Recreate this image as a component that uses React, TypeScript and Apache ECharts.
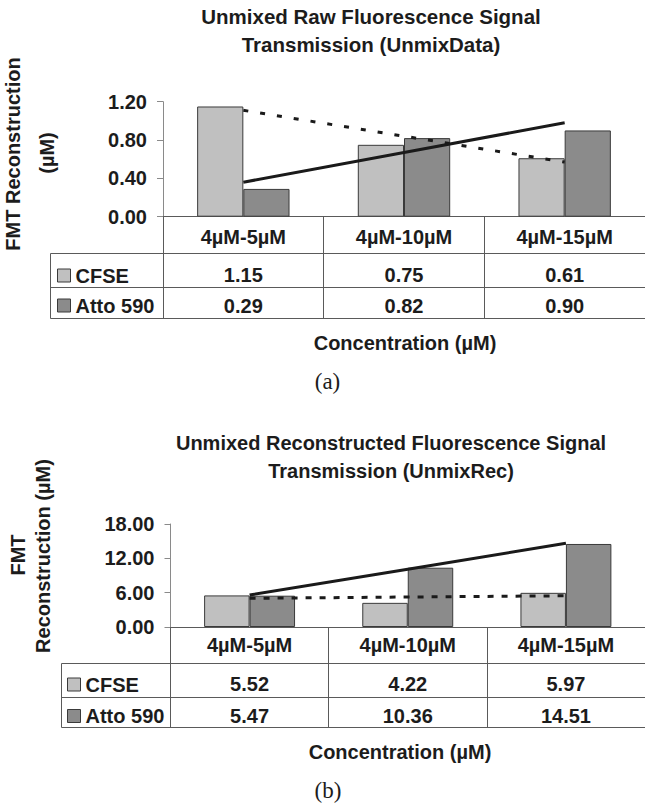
import React, { useEffect, useRef } from 'react';
import * as echarts from 'echarts';

// ---------- data ----------
const categories = ['4µM-5µM', '4µM-10µM', '4µM-15µM'];
const seriesNames = ['CFSE', 'Atto 590'];

// (a) UnmixData
const rawCFSE = [1.15, 0.75, 0.61];
const rawAtto = [0.29, 0.82, 0.9];
const rawTrendCFSE = [1.11, 0.84, 0.57];
const rawTrendAtto = [0.36, 0.67, 0.98];
const rawAxis = { min: 0, max: 1.2, interval: 0.4 };

// (b) UnmixRec
const recCFSE = [5.52, 4.22, 5.97];
const recAtto = [5.47, 10.36, 14.51];
const recTrendCFSE = [5.01, 5.24, 5.46];
const recTrendAtto = [5.59, 10.11, 14.63];
const recAxis = { min: 0, max: 18, interval: 6 };

const titleA = 'Unmixed Raw Fluorescence Signal\nTransmission (UnmixData)';
const titleB = 'Unmixed Reconstructed Fluorescence Signal\nTransmission (UnmixRec)';
const xName = 'Concentration (µM)';

// ---------- styles ----------
const FONT = '"Liberation Sans", Arial, Helvetica, sans-serif';
const SERIF = '"Liberation Serif", "Times New Roman", serif';
const TEXT = '#1c1c1c';
const GRID_LINE = '#5a5a5a';
const AXIS_GRAY = '#8a8a8a';
const CFSE_COLOR = '#c0c0c0';
const ATTO_COLOR = '#8b8b8b';
const BORDER = '#3a3a3a';

const boldText = { fontFamily: FONT, fontSize: 20, fontWeight: 'bold' as const, color: TEXT };

type Panel = {
  grid: { left: number; top: number; width: number; height: number };
  cfse: number[];
  atto: number[];
  trendCfse: number[];
  trendAtto: number[];
  axis: { min: number; max: number; interval: number };
  tableH: number;
  catMargin: number;
  cfseMargin: number;
  attoMargin: number;
  dash: number[];
};

const panels: Panel[] = [
  {
    grid: { left: 163, top: 101.7, width: 485.5, height: 115 },
    cfse: rawCFSE,
    atto: rawAtto,
    trendCfse: rawTrendCFSE,
    trendAtto: rawTrendAtto,
    axis: rawAxis,
    tableH: 101.3,
    catMargin: 20,
    cfseMargin: 58,
    attoMargin: 89,
    dash: [5, 12],
  },
  {
    grid: { left: 170.5, top: 524, width: 477.5, height: 103 },
    cfse: recCFSE,
    atto: recAtto,
    trendCfse: recTrendCFSE,
    trendAtto: recTrendAtto,
    axis: recAxis,
    tableH: 100,
    catMargin: 18,
    cfseMargin: 57,
    attoMargin: 89,
    dash: [6, 8],
  },
];

function buildOption() {
  const grid: any[] = [];
  const xAxis: any[] = [];
  const yAxis: any[] = [];
  const series: any[] = [];

  panels.forEach((p, g) => {
    grid.push({ ...p.grid, containLabel: false });
    const base = xAxis.length;
    // category axis (also draws the table's vertical dividers via long ticks)
    xAxis.push({
      gridIndex: g,
      type: 'category',
      position: 'bottom',
      data: categories,
      axisLine: { show: true, lineStyle: { color: GRID_LINE, width: 1 } },
      axisTick: { show: true, inside: false, length: p.tableH, lineStyle: { color: GRID_LINE, width: 1 } },
      axisLabel: { ...boldText, interval: 0, margin: p.catMargin, verticalAlign: 'middle' },
      splitLine: { show: false },
    });
    // data-table rows
    [p.cfse, p.atto].forEach((vals, r) => {
      xAxis.push({
        gridIndex: g,
        type: 'category',
        position: 'bottom',
        data: categories,
        axisLine: { show: false },
        axisTick: { show: false },
        splitLine: { show: false },
        axisLabel: {
          ...boldText,
          interval: 0,
          margin: r === 0 ? p.cfseMargin : p.attoMargin,
          verticalAlign: 'middle',
          formatter: (_v: string, i: number) => vals[i].toFixed(2),
        },
      });
    });
    yAxis.push({
      gridIndex: g,
      type: 'value',
      min: p.axis.min,
      max: p.axis.max,
      interval: p.axis.interval,
      axisLine: { show: true, lineStyle: { color: AXIS_GRAY, width: 1 } },
      axisTick: { show: true, length: 6, lineStyle: { color: AXIS_GRAY, width: 1 } },
      axisLabel: { ...boldText, margin: 16, formatter: (v: number) => v.toFixed(2) },
      splitLine: { show: false },
    });

    series.push(
      {
        name: seriesNames[0],
        type: 'bar',
        xAxisIndex: base,
        yAxisIndex: g,
        data: p.cfse,
        barGap: '0%',
        barCategoryGap: '42.5%',
        itemStyle: { color: CFSE_COLOR, borderColor: BORDER, borderWidth: 1 },
      },
      {
        name: seriesNames[1],
        type: 'bar',
        xAxisIndex: base,
        yAxisIndex: g,
        data: p.atto,
        barGap: '0%',
        barCategoryGap: '42.5%',
        itemStyle: { color: ATTO_COLOR, borderColor: BORDER, borderWidth: 1 },
      },
      {
        name: 'CFSE trend ' + g,
        type: 'line',
        xAxisIndex: base,
        yAxisIndex: g,
        data: p.trendCfse,
        symbol: 'none',
        z: 5,
        lineStyle: { color: '#1a1a1a', width: 3, type: p.dash },
      },
      {
        name: 'Atto trend ' + g,
        type: 'line',
        xAxisIndex: base,
        yAxisIndex: g,
        data: p.trendAtto,
        symbol: 'none',
        z: 5,
        lineStyle: { color: '#1a1a1a', width: 3, type: 'solid' },
      }
    );
  });

  const legendCommon = {
    orient: 'vertical',
    padding: 0,
    itemWidth: 13,
    itemHeight: 13,
    icon: 'rect',
    selectedMode: false,
    data: seriesNames,
    itemStyle: { borderColor: BORDER, borderWidth: 1 },
    textStyle: { ...boldText, lineHeight: 20 },
  };

  const titleText = (text: string, left: number, top: number, extra: any = {}) => ({
    text,
    left,
    top,
    padding: 0,
    textAlign: 'center',
    textStyle: { ...boldText, lineHeight: 28, ...extra },
  });

  const lineSeg = (x1: number, y1: number, x2: number, y2: number) => ({
    type: 'line',
    shape: { x1, y1, x2, y2 },
    style: { stroke: GRID_LINE, lineWidth: 1 },
    silent: true,
  });

  const rotText = (text: string, x: number, y: number) => ({
    type: 'text',
    x,
    y,
    rotation: Math.PI / 2,
    style: {
      text,
      font: `bold 20px ${FONT}`,
      fill: TEXT,
      align: 'center',
      verticalAlign: 'middle',
    },
    silent: true,
  });

  return {
    animation: false,
    backgroundColor: '#ffffff',
    textStyle: { fontFamily: FONT },
    title: [
      titleText(titleA, 371, 2.5, { fontSize: 20.5 }),
      titleText(titleB, 391, 429),
      titleText(xName, 405, 331, { lineHeight: 24 }),
      titleText(xName, 400, 740, { lineHeight: 24 }),
      titleText('(a)', 327.5, 368, { fontFamily: SERIF, fontWeight: 'normal', fontSize: 23, lineHeight: 26 }),
      titleText('(b)', 328, 777, { fontFamily: SERIF, fontWeight: 'normal', fontSize: 23, lineHeight: 26 }),
    ],
    legend: [
      { ...legendCommon, left: 57, top: 265.5, itemGap: 10 },
      { ...legendCommon, left: 67, top: 674.5, itemGap: 11.5 },
    ],
    grid,
    xAxis,
    yAxis,
    series,
    graphic: [
      // table (a)
      lineSeg(50.5, 253.5, 650, 253.5),
      lineSeg(50.5, 287.5, 650, 287.5),
      lineSeg(50.5, 318.5, 650, 318.5),
      lineSeg(50.5, 253.5, 50.5, 318.5),
      // table (b)
      lineSeg(61.5, 663.5, 650, 663.5),
      lineSeg(61.5, 697.5, 650, 697.5),
      lineSeg(61.5, 727.5, 650, 727.5),
      lineSeg(61.5, 663.5, 61.5, 727.5),
      // y-axis titles
      rotText('FMT Reconstruction', 12.5, 154),
      rotText('(µM)', 47, 153),
      rotText('FMT', 17.5, 555),
      rotText('Reconstruction (µM)', 42.5, 556),
    ],
  };
}

export default function App() {
  const ref = useRef<HTMLDivElement>(null);
  useEffect(() => {
    if (!ref.current) return;
    const chart = echarts.init(ref.current, undefined, { renderer: 'svg' });
    chart.setOption(buildOption() as any);
    return () => chart.dispose();
  }, []);
  return (
    <div
      ref={ref}
      style={{ position: 'absolute', left: 0, top: 0, width: 645, height: 804, background: '#fff' }}
    />
  );
}
